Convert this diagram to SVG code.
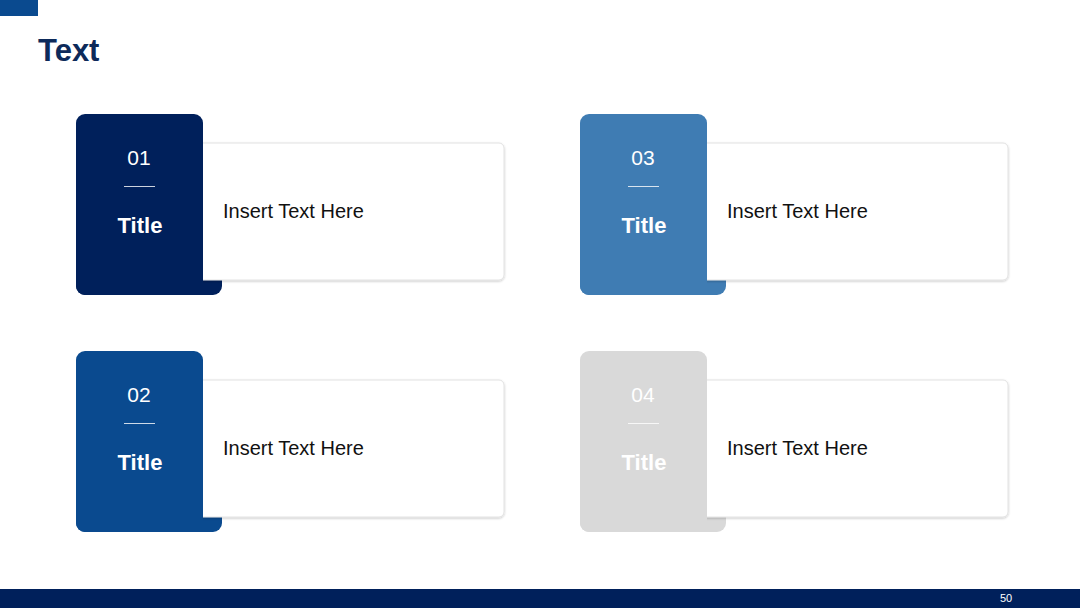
<svg xmlns="http://www.w3.org/2000/svg" width="1080" height="608" viewBox="0 0 1080 608">
<defs>
<filter id="sh" x="-5%" y="-5%" width="110%" height="115%">
<feDropShadow dx="0" dy="1" stdDeviation="1.2" flood-color="#000" flood-opacity="0.22"/>
</filter>
</defs>
<style>
.num{font-family:"Liberation Sans",Arial,sans-serif;font-size:21px;fill:#fff;text-anchor:middle}
.ttl{font-family:"Liberation Sans",Arial,sans-serif;font-size:22px;font-weight:bold;fill:#fff;text-anchor:middle}
.body{font-family:"Liberation Sans",Arial,sans-serif;font-size:20px;fill:#111}
.card{fill:#fff;stroke:#e2e2e2;stroke-width:1}
.sep{stroke:#fff;stroke-width:1;opacity:0.8}
</style>
<rect width="1080" height="608" fill="#fff"/>
<rect x="0" y="0" width="38" height="16" fill="#0A4A8F"/>
<text x="38" y="61" font-family="Liberation Sans,Arial,sans-serif" font-size="31" font-weight="bold" fill="#0D2A5A">Text</text>
<rect x="0" y="589" width="1080" height="19" fill="#00205B"/>
<text x="1006" y="602" font-family="Liberation Sans,Arial,sans-serif" font-size="11" fill="#fff" text-anchor="middle">50</text>

<g id="node-01">
<rect x="76" y="200" width="146" height="95" rx="9" fill="#00205B"/>
<rect class="card" x="190" y="143" width="314" height="137" rx="5" filter="url(#sh)"/>
<rect x="76" y="114" width="127" height="181" rx="9" fill="#00205B"/>
<rect x="150" y="200" width="53" height="95" fill="#00205B"/>
<text class="num" x="139" y="165">01</text>
<line class="sep" x1="124" y1="186.5" x2="155" y2="186.5"/>
<text class="ttl" x="140" y="233">Title</text>
<text class="body" x="223" y="218">Insert Text Here</text>
</g>

<g id="node-02">
<rect x="76" y="437" width="146" height="95" rx="9" fill="#0A4A8F"/>
<rect class="card" x="190" y="380" width="314" height="137" rx="5" filter="url(#sh)"/>
<rect x="76" y="351" width="127" height="181" rx="9" fill="#0A4A8F"/>
<rect x="150" y="437" width="53" height="95" fill="#0A4A8F"/>
<text class="num" x="139" y="402">02</text>
<line class="sep" x1="124" y1="423.5" x2="155" y2="423.5"/>
<text class="ttl" x="140" y="470">Title</text>
<text class="body" x="223" y="455">Insert Text Here</text>
</g>

<g id="node-03">
<rect x="580" y="200" width="146" height="95" rx="9" fill="#3F7CB3"/>
<rect class="card" x="694" y="143" width="314" height="137" rx="5" filter="url(#sh)"/>
<rect x="580" y="114" width="127" height="181" rx="9" fill="#3F7CB3"/>
<rect x="654" y="200" width="53" height="95" fill="#3F7CB3"/>
<text class="num" x="643" y="165">03</text>
<line class="sep" x1="628" y1="186.5" x2="659" y2="186.5"/>
<text class="ttl" x="644" y="233">Title</text>
<text class="body" x="727" y="218">Insert Text Here</text>
</g>

<g id="node-04">
<rect x="580" y="437" width="146" height="95" rx="9" fill="#D9D9D9"/>
<rect class="card" x="694" y="380" width="314" height="137" rx="5" filter="url(#sh)"/>
<rect x="580" y="351" width="127" height="181" rx="9" fill="#D9D9D9"/>
<rect x="654" y="437" width="53" height="95" fill="#D9D9D9"/>
<text class="num" x="643" y="402">04</text>
<line class="sep" x1="628" y1="423.5" x2="659" y2="423.5"/>
<text class="ttl" x="644" y="470">Title</text>
<text class="body" x="727" y="455">Insert Text Here</text>
</g>

<g id="connectors"></g>
</svg>
